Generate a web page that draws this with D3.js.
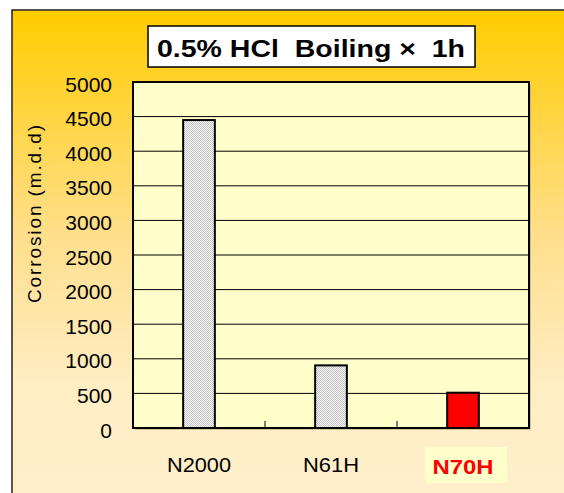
<!DOCTYPE html>
<html>
<head>
<meta charset="utf-8">
<script src="https://cdn.jsdelivr.net/npm/d3@7"></script>
<style>
  body { margin: 0; background: #fff; }
  text { font-family: "Liberation Sans", Arial, sans-serif; }
</style>
</head>
<body>
<svg id="chart" width="564" height="493"></svg>
<script>
// data
const categories = ['N2000', 'N61H', 'N70H'];
const corrosion = [4450, 905, 510];
const yTicks = [0, 500, 1000, 1500, 2000, 2500, 3000, 3500, 4000, 4500, 5000];
const titleText = '0.5% HCl\u00a0\u00a0Boiling \u00d7\u00a0\u00a01h';
const yTitle = 'Corrosion (m.d.d)';

const svg = d3.select('#chart');
const defs = svg.append('defs');

//Background gradient of the frame.
const grad = defs.append('linearGradient')
    .attr('id', 'bg')
    .attr('x1', 0).attr('y1', 0).attr('x2', 0).attr('y2', 1);
grad.append('stop').attr('offset', '0%').attr('stop-color', '#ffcc00');
grad.append('stop').attr('offset', '45%').attr('stop-color', '#ffdf8c');
grad.append('stop').attr('offset', '75%').attr('stop-color', '#ffedc4');
grad.append('stop').attr('offset', '100%').attr('stop-color', '#fff0cc');

//Dotted grey fill for bars.
const pat = defs.append('pattern')
    .attr('id', 'dots')
    .attr('width', 2).attr('height', 2)
    .attr('patternUnits', 'userSpaceOnUse');
pat.append('rect').attr('width', 2).attr('height', 2).attr('fill', '#f6f6f6');
pat.append('rect').attr('width', 1).attr('height', 1).attr('fill', '#c4c4c4');
pat.append('rect').attr('x', 1).attr('y', 1).attr('width', 1).attr('height', 1).attr('fill', '#c4c4c4');

//Frame.
svg.append('rect')
    .attr('x', 12).attr('y', 10)
    .attr('width', 564).attr('height', 500)
    .attr('fill', 'url(#bg)')
    .attr('stroke', '#222')
    .attr('stroke-width', 1.5);

const plot = {left: 133, top: 82, right: 529, bottom: 428};

const x = d3.scaleBand()
    .domain(categories)
    .range([plot.left, plot.right])
    .paddingInner(0.76)
    .paddingOuter(0.38);

const y = d3.scaleLinear()
    .domain([0, 5000])
    .range([plot.bottom, plot.top]);

//Plot area with shadow.
svg.append('rect')
    .attr('x', plot.left + 2).attr('y', plot.top + 2)
    .attr('width', plot.right - plot.left).attr('height', plot.bottom - plot.top)
    .attr('fill', '#b8a878').attr('opacity', 0.6);
svg.append('rect')
    .attr('x', plot.left).attr('y', plot.top)
    .attr('width', plot.right - plot.left).attr('height', plot.bottom - plot.top)
    .attr('fill', '#ffffcc');

//Gridlines.
svg.append('g')
    .selectAll('line')
    .data(yTicks.filter(t => t > 0 && t < 5000))
    .join('line')
    .attr('x1', plot.left).attr('x2', plot.right)
    .attr('y1', d => y(d)).attr('y2', d => y(d))
    .attr('stroke', '#000')
    .attr('stroke-width', 1);

//Y tick labels.
svg.append('g')
    .selectAll('text')
    .data(yTicks)
    .join('text')
    .attr('x', 112)
    .attr('y', d => y(d) + 2)
    .attr('dy', '0.36em')
    .attr('text-anchor', 'end')
    .attr('font-size', '21px')
    .attr('fill', '#000')
    .text(d => d);

//Category separator ticks.
svg.append('g')
    .selectAll('line')
    .data(categories.slice(1))
    .join('line')
    .attr('x1', c => x(c) - (x.step() - x.bandwidth()) / 2)
    .attr('x2', c => x(c) - (x.step() - x.bandwidth()) / 2)
    .attr('y1', plot.bottom).attr('y2', plot.bottom - 7)
    .attr('stroke', '#000')
    .attr('stroke-width', 1);

//Bars.
svg.append('g')
    .selectAll('rect')
    .data(categories)
    .join('rect')
    .attr('x', c => x(c))
    .attr('y', (c, i) => y(corrosion[i]))
    .attr('width', x.bandwidth())
    .attr('height', (c, i) => plot.bottom - y(corrosion[i]))
    .attr('fill', c => c === 'N70H' ? '#ff0000' : 'url(#dots)')
    .attr('stroke', '#000')
    .attr('stroke-width', 2);

//Plot border.
svg.append('rect')
    .attr('x', plot.left).attr('y', plot.top)
    .attr('width', plot.right - plot.left).attr('height', plot.bottom - plot.top)
    .attr('fill', 'none')
    .attr('stroke', '#000')
    .attr('stroke-width', 2);

//X labels.
const labelWidth = {N2000: 64, N61H: 56, N70H: 61};
const xl = svg.append('g');
xl.append('rect')
    .attr('x', x('N70H') + x.bandwidth() / 2 - 38)
    .attr('y', 447)
    .attr('width', 82).attr('height', 36)
    .attr('fill', '#ffffcc');
xl.selectAll('text')
    .data(categories)
    .join('text')
    .attr('x', c => x(c) + x.bandwidth() / 2)
    .attr('y', c => c === 'N70H' ? 466 : 464)
    .attr('dy', '0.36em')
    .attr('text-anchor', 'middle')
    .attr('font-size', '21px')
    .attr('font-weight', c => c === 'N70H' ? 'bold' : 'normal')
    .attr('fill', c => c === 'N70H' ? '#ff0000' : '#000')
    .attr('textLength', c => labelWidth[c])
    .attr('lengthAdjust', 'spacingAndGlyphs')
    .text(c => c);

//Y axis title.
svg.append('text')
    .attr('transform', 'translate(34,214) rotate(-90)')
    .attr('dy', '0.36em')
    .attr('text-anchor', 'middle')
    .attr('font-size', '19px')
    .attr('fill', '#000')
    .attr('textLength', 178)
    .attr('lengthAdjust', 'spacing')
    .text(yTitle);

//Title box.
svg.append('rect')
    .attr('x', 148).attr('y', 26)
    .attr('width', 327).attr('height', 41)
    .attr('fill', '#fff')
    .attr('stroke', '#000')
    .attr('stroke-width', 1.5);
svg.append('text')
    .attr('x', 311).attr('y', 48)
    .attr('dy', '0.36em')
    .attr('text-anchor', 'middle')
    .attr('font-size', '24px')
    .attr('font-weight', 'bold')
    .attr('textLength', 308)
    .attr('lengthAdjust', 'spacingAndGlyphs')
    .text(titleText);
</script>
</body>
</html>
